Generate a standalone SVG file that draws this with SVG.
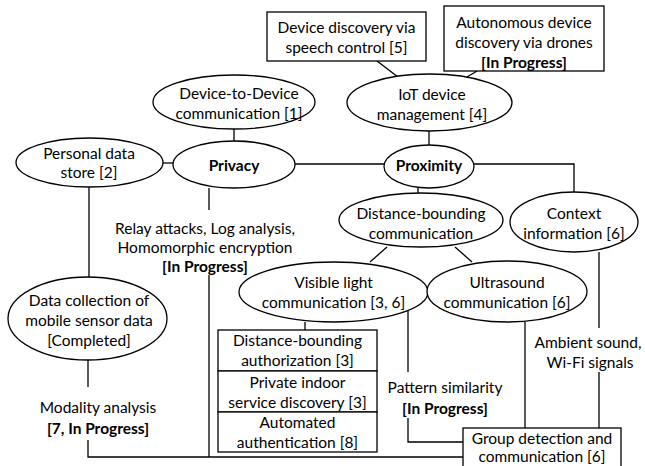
<svg xmlns="http://www.w3.org/2000/svg" width="645" height="466" viewBox="0 0 645 466">
<style>
.n{fill:#fff;stroke:#000;stroke-width:1.3}
.c{fill:none;stroke:#000;stroke-width:1.3}
text{font-family:Lato,"Liberation Sans",sans-serif;font-size:15.5px;fill:#000;text-anchor:middle;dominant-baseline:central}
.b{font-weight:bold}
</style>
<rect width="645" height="466" fill="#fff"/>
<g id="connectors">
<path class="c" d="M377,61 L398,77"/>
<path class="c" d="M477,71 L467,77"/>
<path class="c" d="M429,131 V145"/>
<path class="c" d="M234,129 V141"/>
<path class="c" d="M163,163 H173"/>
<path class="c" d="M295,164 H384"/>
<path class="c" d="M474,164 H574 V192"/>
<path class="c" d="M418,188 V193"/>
<path class="c" d="M387,247 L370,262"/>
<path class="c" d="M455,247 L472,262"/>
<path class="c" d="M305,322 V330"/>
<path class="c" d="M408,310 V372"/>
<path class="c" d="M408,418 V442 H463"/>
<path class="c" d="M525,322 V428"/>
<path class="c" d="M599,252 V328"/>
<path class="c" d="M599,372 V428"/>
<path class="c" d="M209,188 V210"/>
<path class="c" d="M209,275 V457"/>
<path class="c" d="M89,187 V277"/>
<path class="c" d="M88,360 V387"/>
<path class="c" d="M88,440 V457 H463"/>
</g>
<g id="speech">
<rect class="n" x="267" y="12" width="159" height="49"/>
<text x="346.5" y="27">Device discovery via</text>
<text x="346.5" y="47">speech control [5]</text>
</g>
<g id="drones">
<rect class="n" x="444" y="6" width="160" height="65"/>
<text x="524" y="22">Autonomous device</text>
<text x="524" y="42">discovery via drones</text>
<text x="524" y="62" class="b">[In Progress]</text>
</g>
<g id="d2d">
<ellipse class="n" cx="234" cy="102" rx="81" ry="27"/>
<text x="239" y="93">Device-to-Device</text>
<text x="239" y="113">communication [1]</text>
</g>
<g id="iot">
<ellipse class="n" cx="429.5" cy="102.5" rx="82.5" ry="28.5"/>
<text x="432" y="94">IoT device</text>
<text x="432" y="114">management [4]</text>
</g>
<g id="pds">
<ellipse class="n" cx="89.5" cy="162.5" rx="73.5" ry="24.5"/>
<text x="89" y="153">Personal data</text>
<text x="89" y="172">store [2]</text>
</g>
<g id="privacy">
<ellipse class="n" cx="234" cy="164.5" rx="61" ry="23.5"/>
<text x="234" y="165" class="b">Privacy</text>
</g>
<g id="proximity">
<ellipse class="n" cx="429" cy="166.5" rx="45" ry="21.5"/>
<text x="429" y="165" class="b">Proximity</text>
</g>
<g id="distance-bounding">
<ellipse class="n" cx="421" cy="220" rx="82" ry="27"/>
<text x="421" y="213">Distance-bounding</text>
<text x="421" y="233">communication</text>
</g>
<g id="context">
<ellipse class="n" cx="574" cy="222" rx="64" ry="30"/>
<text x="574" y="213">Context</text>
<text x="574" y="233">information [6]</text>
</g>
<g id="relay">
<text x="205" y="228">Relay attacks, Log analysis,</text>
<text x="205" y="247">Homomorphic encryption</text>
<text x="205" y="266" class="b">[In Progress]</text>
</g>
<g id="visible-light">
<ellipse class="n" cx="333.5" cy="292" rx="94.5" ry="30"/>
<text x="333.5" y="282">Visible light</text>
<text x="333.5" y="302">communication [3, 6]</text>
</g>
<g id="ultrasound">
<ellipse class="n" cx="507" cy="291.5" rx="80" ry="30.5"/>
<text x="507" y="282">Ultrasound</text>
<text x="507" y="302">communication [6]</text>
</g>
<g id="data-collection">
<ellipse class="n" cx="87.5" cy="318.5" rx="79.5" ry="41.5"/>
<text x="89" y="300">Data collection of</text>
<text x="89" y="320">mobile sensor data</text>
<text x="89" y="340">[Completed]</text>
</g>
<g id="stack">
<rect class="n" x="218" y="330" width="159" height="41"/>
<text x="297.5" y="340">Distance-bounding</text>
<text x="297.5" y="360">authorization [3]</text>
<rect class="n" x="218" y="371" width="159" height="41"/>
<text x="297.5" y="382">Private indoor</text>
<text x="297.5" y="402">service discovery [3]</text>
<rect class="n" x="218" y="412" width="159" height="40"/>
<text x="297.5" y="422">Automated</text>
<text x="297.5" y="442">authentication [8]</text>
</g>
<g id="pattern">
<text x="445" y="387">Pattern similarity</text>
<text x="445" y="408" class="b">[In Progress]</text>
</g>
<g id="ambient">
<text x="588" y="342">Ambient sound,</text>
<text x="590" y="362">Wi-Fi signals</text>
</g>
<g id="modality">
<text x="98" y="407">Modality analysis</text>
<text x="98" y="428" class="b">[7, In Progress]</text>
</g>
<g id="group">
<rect class="n" x="463" y="428" width="158" height="42"/>
<text x="542" y="438">Group detection and</text>
<text x="542" y="456">communication [6]</text>
</g>
</svg>
